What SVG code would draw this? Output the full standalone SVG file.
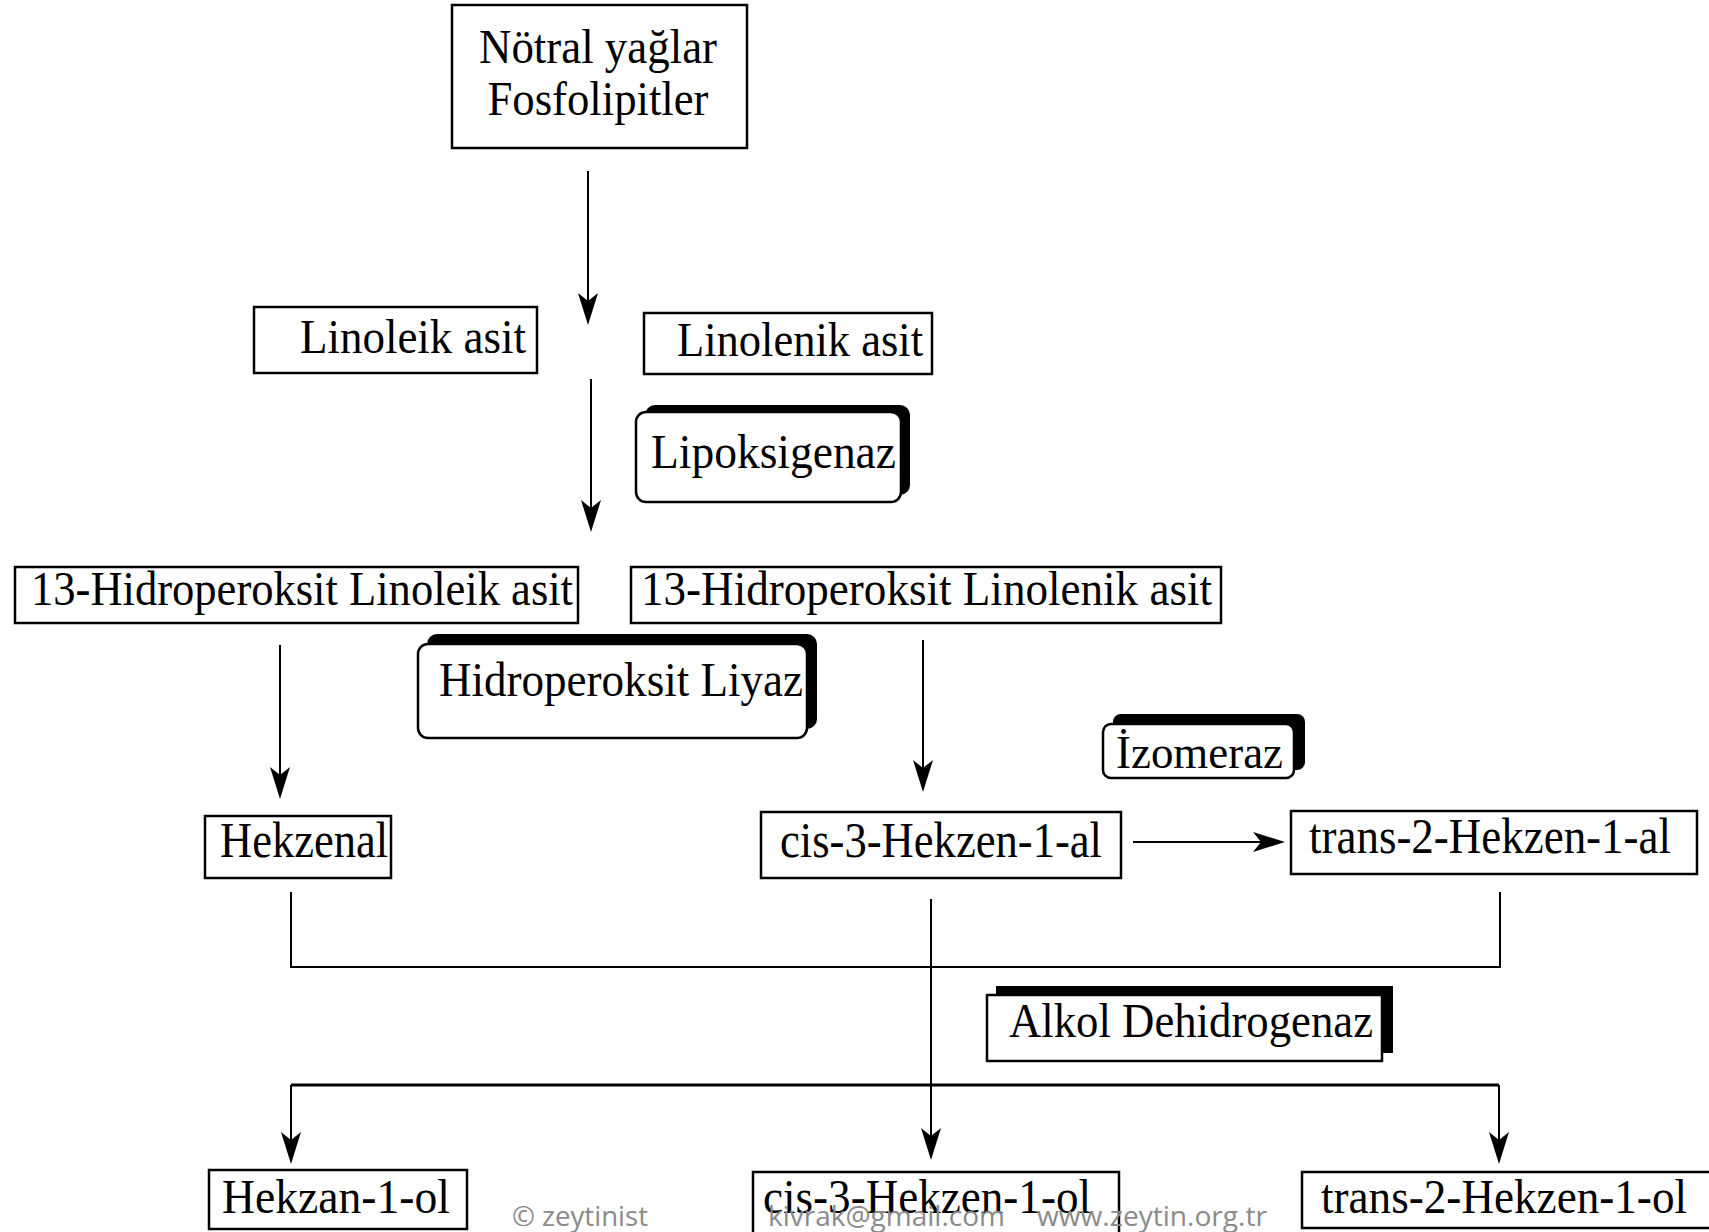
<svg xmlns="http://www.w3.org/2000/svg" width="1709" height="1232" viewBox="0 0 1709 1232">
<style>
.box{fill:#fff;stroke:#000;stroke-width:2.5}
.rbox{fill:#fff;stroke:#000;stroke-width:2.5}
.shadow{fill:#000}
.t{font-family:"Liberation Serif","Times New Roman",serif;font-size:48px;fill:#000}
.c{stroke:#000;stroke-width:2;fill:none}
.wm{font-family:"Open Sans","Liberation Sans",sans-serif;font-size:27px;fill:#8a8a8a}
</style>
<defs>
<marker id="ah" viewBox="-32 -10 32 20" markerWidth="32" markerHeight="20" refX="-20" refY="0" markerUnits="userSpaceOnUse" orient="auto">
<path d="M0,0 L-32,-10 L-24,0 L-32,10 Z" fill="#000"/>
</marker>
</defs>
<rect width="1709" height="1232" fill="#fff"/>
<g id="connectors">
<line class="c" x1="588" y1="171" x2="588" y2="305" marker-end="url(#ah)"/>
<line class="c" x1="591" y1="379" x2="591" y2="512" marker-end="url(#ah)"/>
<line class="c" x1="280" y1="645" x2="280" y2="779" marker-end="url(#ah)"/>
<line class="c" x1="923" y1="640" x2="923" y2="772" marker-end="url(#ah)"/>
<line class="c" x1="1133" y1="842" x2="1265" y2="842" marker-end="url(#ah)"/>
<path class="c" d="M291,892 V967 H1500 V892"/>
<path class="c" d="M291,1085 H1499" style="stroke-width:3"/>
<line class="c" x1="931" y1="899" x2="931" y2="1140" marker-end="url(#ah)"/>
<line class="c" x1="291" y1="1085" x2="291" y2="1144" marker-end="url(#ah)"/>
<line class="c" x1="1499" y1="1085" x2="1499" y2="1144" marker-end="url(#ah)"/>
</g>
<g id="notral">
<rect class="box" x="452" y="5" width="295" height="143"/>
<text class="t" x="598" y="63" text-anchor="middle" textLength="238" lengthAdjust="spacingAndGlyphs">Nötral yağlar</text>
<text class="t" x="598" y="115" text-anchor="middle" textLength="221" lengthAdjust="spacingAndGlyphs">Fosfolipitler</text>
</g>
<g id="linoleik">
<rect class="box" x="254" y="307" width="283" height="66"/>
<text class="t" x="300" y="353" textLength="226" lengthAdjust="spacingAndGlyphs">Linoleik asit</text>
</g>
<g id="linolenik">
<rect class="box" x="644" y="313" width="288" height="61"/>
<text class="t" x="677" y="356" textLength="246" lengthAdjust="spacingAndGlyphs">Linolenik asit</text>
</g>
<g id="lipoksigenaz">
<rect class="shadow" x="645" y="405" width="265" height="90" rx="10"/>
<rect class="rbox" x="636" y="412" width="265" height="90" rx="10"/>
<text class="t" x="651" y="468" textLength="245" lengthAdjust="spacingAndGlyphs">Lipoksigenaz</text>
</g>
<g id="hp-linoleik">
<rect class="box" x="15" y="567" width="563" height="56"/>
<text class="t" x="31" y="605" textLength="542" lengthAdjust="spacingAndGlyphs">13-Hidroperoksit Linoleik asit</text>
</g>
<g id="hp-linolenik">
<rect class="box" x="631" y="567" width="590" height="56"/>
<text class="t" x="641" y="605" textLength="571" lengthAdjust="spacingAndGlyphs">13-Hidroperoksit Linolenik asit</text>
</g>
<g id="liyaz">
<rect class="shadow" x="427" y="634" width="390" height="95" rx="10"/>
<rect class="rbox" x="418" y="644" width="389" height="94" rx="10"/>
<text class="t" x="439" y="696" textLength="364" lengthAdjust="spacingAndGlyphs">Hidroperoksit Liyaz</text>
</g>
<g id="izomeraz">
<rect class="shadow" x="1113" y="714" width="192" height="56" rx="8"/>
<rect class="rbox" x="1103" y="724" width="191" height="54" rx="8"/>
<text class="t" x="1116" y="768" textLength="167" lengthAdjust="spacingAndGlyphs" style="font-size:46px">İzomeraz</text>
</g>
<g id="hekzenal">
<rect class="box" x="205" y="816" width="186" height="62"/>
<text class="t" x="220" y="857" textLength="168" lengthAdjust="spacingAndGlyphs" style="font-size:51px">Hekzenal</text>
</g>
<g id="cis-al">
<rect class="box" x="761" y="812" width="360" height="66"/>
<text class="t" x="780" y="857" textLength="322" lengthAdjust="spacingAndGlyphs" style="font-size:51px">cis-3-Hekzen-1-al</text>
</g>
<g id="trans-al">
<rect class="box" x="1291" y="811" width="406" height="63"/>
<text class="t" x="1309" y="853" textLength="362" lengthAdjust="spacingAndGlyphs" style="font-size:51px">trans-2-Hekzen-1-al</text>
</g>
<g id="alkol">
<rect class="shadow" x="996" y="986" width="397" height="67"/>
<rect class="box" x="987" y="995" width="395" height="66"/>
<text class="t" x="1009" y="1037" textLength="364" lengthAdjust="spacingAndGlyphs">Alkol Dehidrogenaz</text>
</g>
<g id="hekzanol">
<rect class="box" x="209" y="1170" width="258" height="59"/>
<text class="t" x="222" y="1213" textLength="228" lengthAdjust="spacingAndGlyphs">Hekzan-1-ol</text>
</g>
<g id="cis-ol">
<rect class="box" x="753" y="1172" width="366" height="62"/>
<text class="t" x="763" y="1213" textLength="328" lengthAdjust="spacingAndGlyphs">cis-3-Hekzen-1-ol</text>
</g>
<g id="trans-ol">
<rect class="box" x="1302" y="1172" width="410" height="56"/>
<text class="t" x="1321" y="1213" textLength="366" lengthAdjust="spacingAndGlyphs">trans-2-Hekzen-1-ol</text>
</g>
<g id="watermark">
<text class="wm" x="512" y="1226" textLength="136" lengthAdjust="spacingAndGlyphs">© zeytinist</text>
<text class="wm" x="768" y="1226" textLength="237" lengthAdjust="spacingAndGlyphs">kivrak@gmail.com</text>
<text class="wm" x="1037" y="1226" textLength="230" lengthAdjust="spacingAndGlyphs">www.zeytin.org.tr</text>
</g>
</svg>
